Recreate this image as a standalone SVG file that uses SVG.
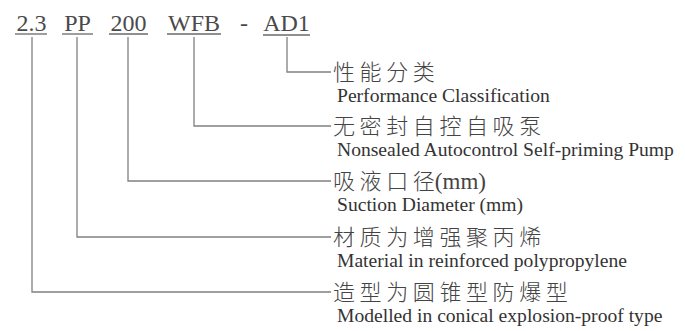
<svg xmlns="http://www.w3.org/2000/svg" width="685" height="331" viewBox="0 0 685 331">
<style>
.code{font-family:"Liberation Serif","Times New Roman",serif;font-size:24px;fill:#4a4a4a;text-anchor:middle}
.ul{stroke:#6a6a6a;stroke-width:1.3;fill:none}
.conn{stroke:#808080;stroke-width:1.3;fill:none}
.zh{font-family:"Liberation Serif","Noto Sans CJK SC",serif;font-size:22px;font-weight:300;fill:#444}
.zh .c{letter-spacing:4.6px}
.zh .m{font-size:23px;font-weight:400}
.en{font-family:"Liberation Serif","Times New Roman",serif;font-size:19.6px;fill:#333}
</style>
<rect width="685" height="331" fill="#ffffff"/>
<g id="code-2-3"><text class="code" x="31.5" y="30.5">2.3</text><line class="ul" x1="15" y1="34" x2="47" y2="34"/></g>
<g id="code-pp"><text class="code" x="77.5" y="30.5">PP</text><line class="ul" x1="62" y1="34" x2="93" y2="34"/></g>
<g id="code-200"><text class="code" x="128.5" y="30.5">200</text><line class="ul" x1="109" y1="34" x2="148" y2="34"/></g>
<g id="code-wfb"><text class="code" x="194" y="30.5">WFB</text><line class="ul" x1="167" y1="34" x2="221" y2="34"/></g>
<g id="code-dash"><text class="code" x="244" y="30.5">-</text></g>
<g id="code-ad1"><text class="code" x="286.5" y="30.5">AD1</text><line class="ul" x1="263" y1="35" x2="310" y2="35"/></g>
<g id="connectors">
<path class="conn" d="M287 37V72H331"/>
<path class="conn" d="M194 37V126H331"/>
<path class="conn" d="M128 37V181H331"/>
<path class="conn" d="M77 37V237H331"/>
<path class="conn" d="M32 37V292H331"/>
</g>
<g id="label-performance">
<text class="zh" x="333" y="80"><tspan class="c">性能分类</tspan></text>
<text class="en" x="337" y="102">Performance Classification</text>
</g>
<g id="label-pump">
<text class="zh" x="333" y="134"><tspan class="c">无密封自控自吸泵</tspan></text>
<text class="en" x="337" y="156">Nonsealed Autocontrol Self-priming Pump</text>
</g>
<g id="label-suction">
<text class="zh" x="333" y="189"><tspan class="c">吸液口</tspan>径<tspan class="m">(mm)</tspan></text>
<text class="en" x="337" y="211">Suction Diameter (mm)</text>
</g>
<g id="label-material">
<text class="zh" x="333" y="245"><tspan class="c">材质为增强聚丙烯</tspan></text>
<text class="en" x="337" y="267">Material in reinforced polypropylene</text>
</g>
<g id="label-model">
<text class="zh" x="333" y="300"><tspan class="c">造型为圆锥型防爆型</tspan></text>
<text class="en" x="337" y="322">Modelled in conical explosion-proof type</text>
</g>
</svg>
